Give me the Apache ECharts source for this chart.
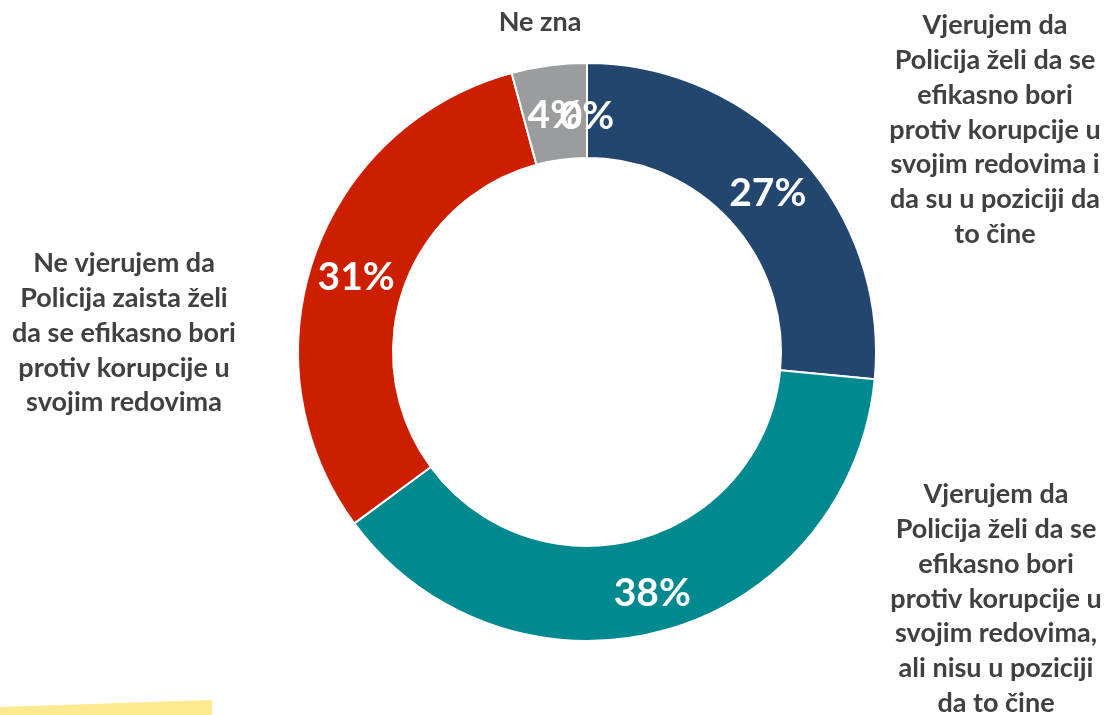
<!DOCTYPE html>
<html>
<head>
<meta charset="utf-8">
<script src="https://cdn.jsdelivr.net/npm/echarts@6/dist/echarts.min.js"></script>
<style>
    html, body {margin: 0; padding: 0; background: #fff;}
    #app {width: 1107px; height: 715px;}
</style>
</head>
<body>
<div id="app"></div>
<script>
// kategorije (redoslijed u smjeru kazaljke od vrha)
var categories = [
    'Vjerujem da\nPolicija želi da se\nefikasno bori\nprotiv korupcije u\nsvojim redovima i\nda su u poziciji da\nto čine',
    'Vjerujem da\nPolicija želi da se\nefikasno bori\nprotiv korupcije u\nsvojim redovima,\nali nisu u poziciji\nda to čine',
    'Ne vjerujem da\nPolicija zaista želi\nda se efikasno bori\nprotiv korupcije u\nsvojim redovima',
    'Ne zna',
    ''
]
var values = [26.5, 38.4, 30.9, 4.2, 0]
var colors = ['#23466f', '#00898e', '#cd1e00', '#9a9c9d', '#7f7f7f']

// pozicije vanjskih natpisa (centar, vrh bloka)
var labelPos = [[995, 8], [996, 477], [124, 246], [540, 5], null]

var chart = echarts.init(document.getElementById('app'))

var pctFont = 'bold 39px Lato'

var graphics = []
for (var i = 0; i < categories.length; i++) {
    if (!labelPos[i] || !categories[i]) continue
    graphics.push({
        type: 'text',
        x: labelPos[i][0],
        y: labelPos[i][1],
        style: {
            text: categories[i],
            fill: '#404040',
            font: 'bold 27px Lato',
            align: 'center',
            verticalAlign: 'top',
            lineHeight: 34.8
        }
    })
}
// žuta traka dolje lijevo
graphics.push({
    type: 'polygon',
    shape: {points: [[0, 707], [212, 700], [212, 715], [0, 715]]},
    style: {fill: '#fde98f'}
})

chart.setOption({
    animation: false,
    graphic: graphics,
    series: [
        {
            type: 'pie',
            center: [587, 352],
            radius: [194, 289],
            startAngle: 90,
            clockwise: true,
            avoidLabelOverlap: false,
            data: values.map((v, i) => ({
                name: categories[i] || 'n/a',
                value: v,
                itemStyle: {color: colors[i]}
            })),
            itemStyle: {borderColor: '#fff', borderWidth: 2},
            label: {
                show: true,
                position: 'inside',
                offset: [0, 6],
                formatter: (p) => Math.round(p.value) + '%',
                color: '#fff',
                fontFamily: 'Lato',
                fontWeight: 'bold',
                fontSize: 39
            },
            labelLine: {show: false},
            emphasis: {disabled: true}
        }
    ]
})

//echarts ne pokazuje natpis za nulu, pa ga dodajemo prema layoutu sektora
var pieData = chart.getModel().getSeriesByIndex(0).getData()
pieData.each((idx) => {
    if (pieData.get('value', idx) !== 0) return
    var l = pieData.getItemLayout(idx)
    var a = (l.startAngle + l.endAngle) / 2
    var mr = (l.r0 + l.r) / 2
    graphics.push({
        type: 'text',
        x: l.cx + mr * Math.cos(a),
        y: l.cy + mr * Math.sin(a) + 6,
        z: 100,
        style: {
            text: '0%',
            fill: '#fff',
            font: pctFont,
            align: 'center',
            verticalAlign: 'middle'
        }
    })
})
chart.setOption({graphic: graphics}, {replaceMerge: ['graphic']})
</script>
</body>
</html>
